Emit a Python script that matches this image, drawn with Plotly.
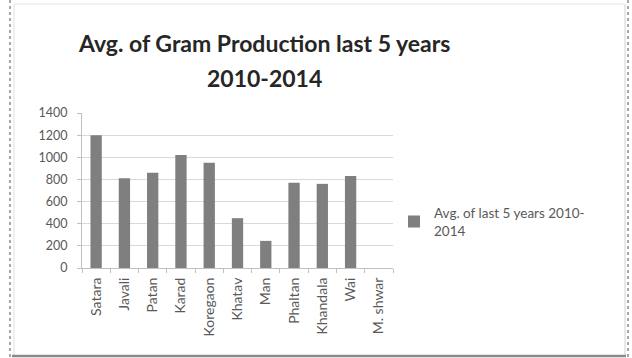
import plotly.graph_objects as go

# Talukas and their average gram production over 2010-2014
talukas = ["Satara", "Javali", "Patan", "Karad", "Koregaon", "Khatav",
           "Man", "Phaltan", "Khandala", "Wai", "M. shwar"]
avg_production = [1200, 810, 860, 1020, 950, 450, 245, 770, 760, 830, 0]
y_ticks = [0, 200, 400, 600, 800, 1000, 1200, 1400]

series_name = "Avg. of last 5 years 2010-<br>2014"
title_lines = ["Avg. of Gram Production last 5 years", "2010-2014"]

W, H = 632, 358
ML, MR, MT, MB = 82, 239, 113, 90
PW, PH = W - ML - MR, H - MT - MB


def px_x(x):
    return (x - ML) / PW


def px_y(y):
    return (H - MB - y) / PH


FONT = "Lato"
AXIS_GREY = "#bfbfbf"
TEXT_GREY = "#595959"

fig = go.Figure(
    go.Bar(
        x=talukas,
        y=avg_production,
        name=series_name,
        marker=dict(color="#7f7f7f", line=dict(width=0)),
        showlegend=True,
    )
)

# Frame around the chart: dotted outer edges, light inner edges, shaded bottom
frame = [
    dict(x0=px_x(10), x1=px_x(10), y0=px_y(0), y1=px_y(358),
         line=dict(color="#8c8c8c", width=1.5, dash="dot")),
    dict(x0=px_x(628), x1=px_x(628), y0=px_y(0), y1=px_y(358),
         line=dict(color="#8c8c8c", width=1.5, dash="dot")),
    dict(x0=px_x(14), x1=px_x(14), y0=px_y(4), y1=px_y(356),
         line=dict(color="#e0e0e0", width=1)),
    dict(x0=px_x(625), x1=px_x(625), y0=px_y(4), y1=px_y(356),
         line=dict(color="#d0d0d0", width=1)),
    dict(x0=px_x(14), x1=px_x(625), y0=px_y(4), y1=px_y(4),
         line=dict(color="#e6e6e6", width=1)),
    dict(x0=px_x(12), x1=px_x(626), y0=px_y(356), y1=px_y(356),
         line=dict(color="#8a8a8a", width=2.5)),
]
fig.update_layout(shapes=[dict(type="line", xref="paper", yref="paper", **s) for s in frame])

# Two-line chart title, one annotation per line
title_centres = [43, 78]
fig.update_layout(annotations=[
    dict(text=line, x=px_x(264), y=px_y(cy), xref="paper", yref="paper",
         xanchor="center", yanchor="middle", showarrow=False,
         font=dict(family=FONT, size=23, color="#262626", weight="bold"))
    for line, cy in zip(title_lines, title_centres)
])

fig.update_layout(
    width=W,
    height=H,
    margin=dict(l=ML, r=MR, t=MT, b=MB, pad=0),
    paper_bgcolor="white",
    plot_bgcolor="white",
    font=dict(family=FONT, color=TEXT_GREY),
    bargap=0.6,
    legend=dict(
        x=px_x(394),
        xanchor="left",
        y=px_y(222),
        yanchor="middle",
        font=dict(family=FONT, size=13.5, color=TEXT_GREY),
        bgcolor="rgba(0,0,0,0)",
        borderwidth=0,
    ),
    xaxis=dict(
        type="category",
        showline=True,
        linecolor=AXIS_GREY,
        linewidth=1,
        ticks="outside",
        tickson="boundaries",
        ticklen=4,
        tickcolor=AXIS_GREY,
        tickangle=-90,
        ticklabelstandoff=3,
        tickfont=dict(family=FONT, size=14, color=TEXT_GREY),
        showgrid=False,
    ),
    yaxis=dict(
        range=[0, 1400],
        tickvals=y_ticks,
        ticktext=[str(v) for v in y_ticks],
        showline=True,
        linecolor=AXIS_GREY,
        linewidth=1,
        ticks="outside",
        ticklen=4,
        tickcolor=AXIS_GREY,
        ticklabelstandoff=7,
        tickfont=dict(family=FONT, size=12.5, color=TEXT_GREY),
        showgrid=True,
        gridcolor="#d9d9d9",
        gridwidth=1,
        zeroline=False,
    ),
)

fig.write_html("out.html")
